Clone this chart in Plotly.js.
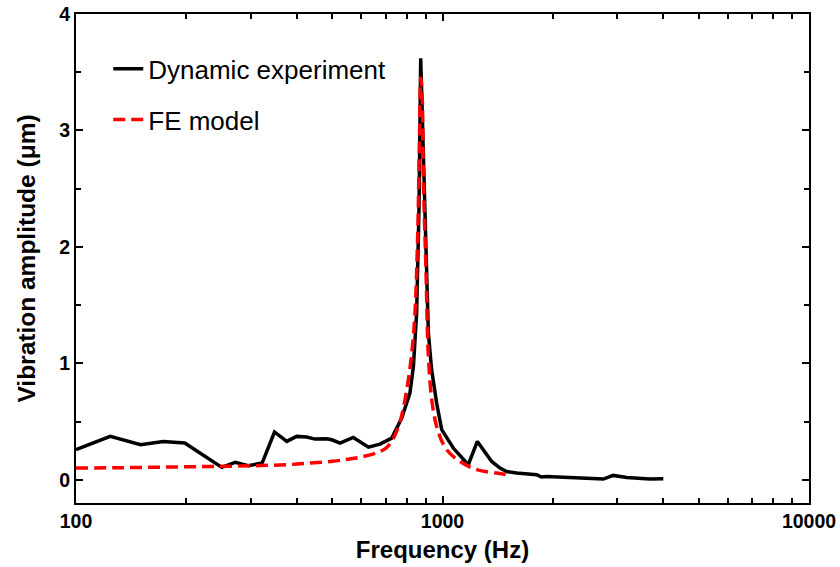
<!DOCTYPE html>
<html>
<head>
<meta charset="utf-8">
<script src="https://cdn.plot.ly/plotly-3.0.1.min.js"></script>
<style>html,body{margin:0;padding:0;background:#fff;}#chart{width:840px;height:567px;}</style>
</head>
<body>
<div id="chart"></div>
<script>
// Dynamic experiment (measured)
const expFreq = [100, 124, 150, 173, 198, 222, 250, 272, 295, 322, 348, 376, 400, 426, 449, 483, 499, 525, 571, 628, 675,
  727, 774, 815, 833, 850, 863, 872, 886, 902, 915, 934, 964, 995, 1070, 1176, 1245, 1362, 1435, 1497, 1594, 1807, 1862,
  1924, 2275, 2747, 2924, 3182, 3681, 4004];
const expAmp = [0.258, 0.372, 0.30, 0.329, 0.315, 0.215, 0.106, 0.149, 0.12, 0.143, 0.41, 0.329, 0.372, 0.366, 0.349, 0.352, 0.343, 0.315, 0.363, 0.28, 0.306,
  0.357, 0.53, 0.744, 0.973, 1.43, 2.35, 3.62, 2.78, 1.77, 1.26, 0.944, 0.658, 0.43, 0.272, 0.129, 0.329, 0.157, 0.10, 0.071, 0.057, 0.043, 0.023,
  0.028, 0.015, 0.006, 0.037, 0.02, 0.006, 0.009];
// FE model
const feFreq = [100, 130, 170, 220, 270, 320, 380, 435, 500, 550, 600, 660, 700, 727, 766, 807, 836, 854, 865, 872,
  880, 886, 902, 915, 940, 974, 1027, 1116, 1240, 1406, 1497];
const feAmp = [0.10, 0.103, 0.108, 0.113, 0.117, 0.122, 0.13, 0.143, 0.158, 0.175, 0.195, 0.23, 0.27, 0.33, 0.50, 0.86, 1.30, 2.0, 2.9, 3.45,
  3.3, 2.63, 1.77, 1.06, 0.63, 0.41, 0.257, 0.157, 0.086, 0.057, 0.043];
const xTickVals = [100, 1000, 10000];
const xTickText = ['100', '1000', '10000'];
const xMinorVals = [200, 300, 400, 500, 600, 700, 800, 900, 2000, 3000, 4000, 5000, 6000, 7000, 8000, 9000];
const yTickVals = [0, 1, 2, 3, 4];

const font = 'Liberation Sans, Arial, sans-serif';
const traces = [
  {x: expFreq, y: expAmp, type: 'scatter', mode: 'lines', name: 'Dynamic experiment', legendgroup: 'a',
   line: {color: '#000000', width: 3.5}},
  {x: feFreq, y: feAmp, type: 'scatter', mode: 'lines', name: 'FE model', legendgroup: 'b', line: {color: '#ff0000', width: 3.5, dash: '12px,6px', shape: 'spline'}}
];
const axisCommon = {
  showline: true, linecolor: '#000', linewidth: 2, mirror: 'ticks', ticks: 'inside', ticklen: 7, tickwidth: 2, tickcolor: '#000',
  showgrid: false, zeroline: false, tickfont: {family: font, size: 19.5, color: '#000', weight: 'bold'}
};
const layout = {
  width: 840, height: 567, margin: {l: 76, r: 31, t: 14, b: 64},
  paper_bgcolor: '#fff', plot_bgcolor: '#fff',
  showlegend: true,
  legend: {x: 0.044, y: 0.936, xanchor: 'left', yanchor: 'top', bgcolor: 'rgba(0,0,0,0)', traceorder: 'grouped', tracegroupgap: 14,
    font: {family: font, size: 26, color: '#000'}},
  xaxis: Object.assign({}, axisCommon, {type: 'log', range: [2, 4], tickmode: 'array', tickvals: xTickVals, ticktext: xTickText,
    minor: {ticks: 'inside', ticklen: 5, tickwidth: 2, tickcolor: '#000', tickmode: 'array', tickvals: xMinorVals, showgrid: false},
    title: {text: 'Frequency (Hz)', font: {family: font, size: 24, color: '#000', weight: 'bold'}, standoff: 10}}),
  yaxis: Object.assign({}, axisCommon, {range: [-0.2, 4], tickmode: 'array', tickvals: yTickVals,
    minor: {ticks: 'inside', ticklen: 5, tickwidth: 2, tickcolor: '#000', dtick: 0.5, tick0: 0, showgrid: false},
    title: {text: 'Vibration amplitude (μm)', font: {family: font, size: 24.5, color: '#000', weight: 'bold'}, standoff: 17}})
};
Plotly.newPlot('chart', traces, layout, {displayModeBar: false, staticPlot: true});
</script>
</body>
</html>
